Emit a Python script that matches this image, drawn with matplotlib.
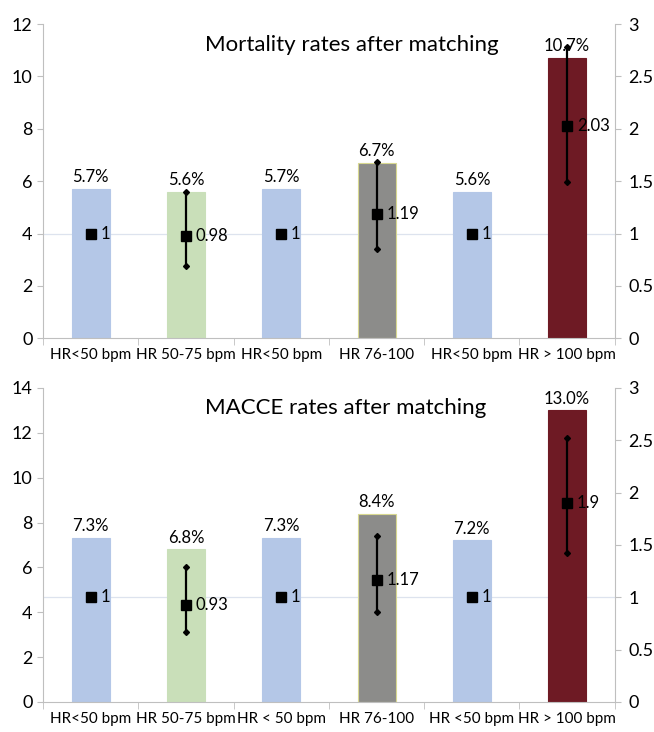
import matplotlib.pyplot as plt

plt.rcParams['font.family'] = ['Lato', 'DejaVu Sans']

groups_top = ['HR<50 bpm', 'HR 50-75 bpm', 'HR<50 bpm', 'HR 76-100', 'HR<50 bpm', 'HR > 100 bpm']
groups_bot = ['HR<50 bpm', 'HR 50-75 bpm', 'HR < 50 bpm', 'HR 76-100', 'HR <50 bpm', 'HR > 100 bpm']

mort_rate = [5.7, 5.6, 5.7, 6.7, 5.6, 10.7]
mort_hr = [1, 0.98, 1, 1.19, 1, 2.03]
mort_lo = [None, 0.69, None, 0.85, None, 1.49]
mort_hi = [None, 1.40, None, 1.68, None, 2.78]
mort_lbl = ['1', '0.98', '1', '1.19', '1', '2.03']

macce_rate = [7.3, 6.8, 7.3, 8.4, 7.2, 13.0]
macce_hr = [1, 0.93, 1, 1.17, 1, 1.9]
macce_lo = [None, 0.67, None, 0.86, None, 1.42]
macce_hi = [None, 1.29, None, 1.59, None, 2.52]
macce_lbl = ['1', '0.93', '1', '1.17', '1', '1.9']

colors = ['#b4c7e7', '#c9dfb9', '#b4c7e7', '#8c8c8a', '#b4c7e7', '#6e1a24']
edges = ['#b4c7e7', '#c9dfb9', '#b4c7e7', '#d8d890', '#b4c7e7', '#6e1a24']


def panel(ax, title, labels, rates, hrs, lo, hi, ymax, hr_labels):
    x = list(range(len(rates)))
    # reference line at HR = 1, drawn behind the bars
    ax.axhline(ymax / 3, color='#dde3ee', linewidth=0.9, zorder=1)
    ax.bar(x, rates, width=0.4, color=colors, edgecolor=edges, linewidth=0.8, zorder=2)
    ax.set_xlim(-0.5, len(rates) - 0.5)
    ax.set_ylim(0, ymax)
    ax.set_yticks(range(0, ymax + 1, 2))
    ax.set_xticks(x)
    ax.set_xticklabels(labels, fontsize=11)
    ax.set_xticks([i - 0.5 for i in range(len(rates) + 1)], minor=True)
    ax.tick_params(axis='x', which='major', length=0, pad=7)
    ax.tick_params(axis='x', which='minor', length=5, color='#bfbfbf')
    ax.tick_params(axis='y', length=4, color='#bfbfbf', labelsize=13)
    for s in ['top', 'right']:
        ax.spines[s].set_visible(False)
    for s in ['left', 'bottom']:
        ax.spines[s].set_color('#bfbfbf')
    for xi, r in zip(x, rates):
        ax.text(xi, r + ymax * 0.012, f'{r:.1f}%', ha='center', va='bottom', fontsize=12)
    ax.text(1.2, ymax * 0.935, title, ha='left', va='center', fontsize=16)

    ax2 = ax.twinx()
    ax2.set_ylim(0, 3)
    ax2.set_yticks([0, 0.5, 1, 1.5, 2, 2.5, 3])
    ax2.set_yticklabels(['0', '0.5', '1', '1.5', '2', '2.5', '3'])
    ax2.tick_params(axis='y', length=4, color='#bfbfbf', labelsize=13, pad=6)
    for s in ['top', 'left', 'bottom']:
        ax2.spines[s].set_visible(False)
    ax2.spines['right'].set_color('#bfbfbf')
    for xi, h, l, u, t in zip(x, hrs, lo, hi, hr_labels):
        if l is not None:
            ax2.plot([xi, xi], [l, u], color='black', linewidth=1.6, zorder=3)
            ax2.plot([xi, xi], [l, u], 'D', color='black', markersize=3, zorder=3)
        ax2.plot(xi, h, 's', color='black', markersize=7, zorder=4)
        ax2.annotate(t, (xi, h), xytext=(7, 0), textcoords='offset points',
                     ha='left', va='center', fontsize=12)


fig = plt.figure(figsize=(6.54, 7.32), dpi=100)
ax_top = fig.add_axes([0.066, 0.538, 0.874, 0.429])
ax_bot = fig.add_axes([0.066, 0.041, 0.874, 0.429])

panel(ax_top, 'Mortality rates after matching', groups_top, mort_rate, mort_hr,
      mort_lo, mort_hi, 12, mort_lbl)
panel(ax_bot, 'MACCE rates after matching', groups_bot, macce_rate, macce_hr,
      macce_lo, macce_hi, 14, macce_lbl)

fig.savefig('out.png', dpi=100)
